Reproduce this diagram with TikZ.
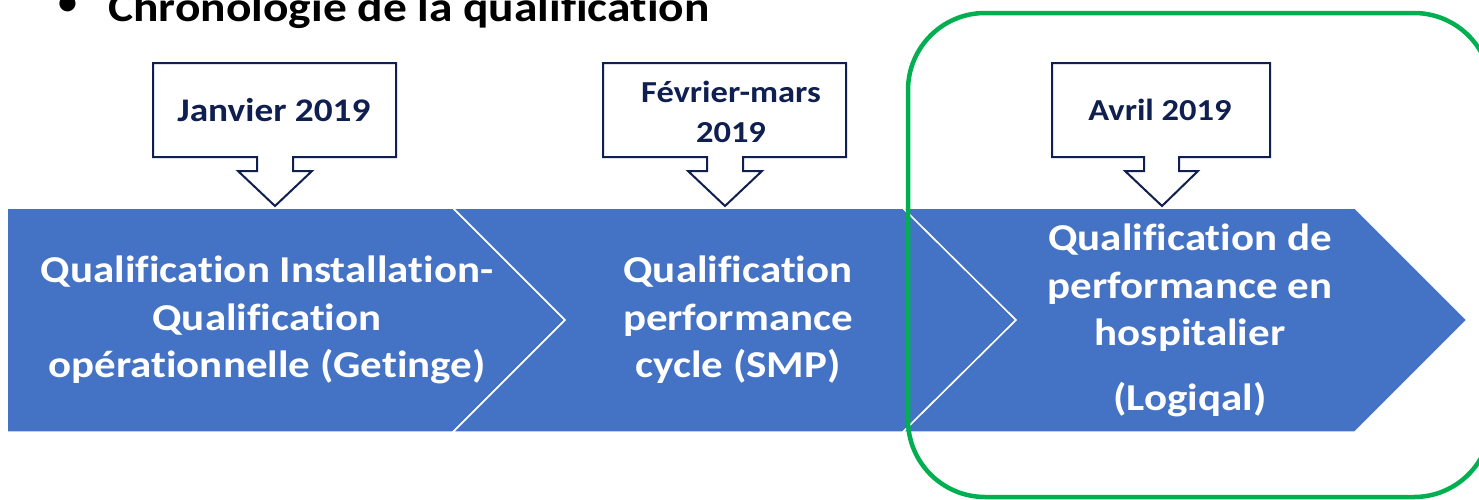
\documentclass[tikz,border=0pt]{standalone}
\usepackage{fontspec}
\setmainfont[Ligatures={NoCommon}]{Carlito}
\newfontfamily\widefont[FakeStretch=1.13,Ligatures={NoCommon}]{Carlito}
\definecolor{chev}{HTML}{4472C4}
\definecolor{navy}{HTML}{0F1F4F}
\definecolor{grn}{HTML}{00B050}
\tikzset{
  chevron/.style={fill=chev, draw=white, line width=1.5pt, line join=miter},
  callout/.style={fill=white, draw=navy, line width=2pt, line join=miter},
  datetext/.style={text=navy, align=center, inner sep=0pt},
  chevtext/.style={text=white, font=\widefont\fontsize{38}{47.5}\selectfont\bfseries, align=center, inner sep=0pt},
  frame/.style={draw=grn, line width=4.5pt, rounded corners=77pt},
}
\begin{document}
\begin{tikzpicture}[x=1pt,y=-1pt]
\useasboundingbox[fill=white] (0,0) rectangle (1479,499);
% title
\node[anchor=base west, inner sep=0pt, font=\widefont\fontsize{42}{48}\selectfont\bfseries] (title) at (108,21) {Chronologie de la qualification};
\node[inner sep=0pt, font=\fontsize{38}{44}\selectfont\bfseries] (bullet) at (68,5) {\textbullet};
% chevrons
\draw[chevron] (7,208) -- (453,208) -- (565,320) -- (453,432) -- (7,432) -- cycle;
\draw[chevron] (453,208) -- (903,208) -- (1016,320) -- (903,432) -- (453,432) -- (565,320) -- cycle;
\draw[chevron] (903,208) -- (1355,208) -- (1467,320) -- (1355,432) -- (903,432) -- (1016,320) -- cycle;
% chevron texts
\node[chevtext] (c1) at (267,320) {Qualification Installation-\\Qualification\\opérationnelle (Getinge)};
\node[chevtext] (c2) at (738,320) {Qualification\\performance\\cycle (SMP)};
\node[chevtext] (c3) at (1190,288) {Qualification de\\performance en\\hospitalier};
\node[chevtext] (c3b) at (1190,400) {(Logiqal)};
% callouts
\draw[callout] (153,63) -- (396,63) -- (396,157) -- (293,157) -- (293,171) -- (312,171) -- (275,206) -- (238,171) -- (257,171) -- (257,157) -- (153,157) -- cycle;
\draw[callout] (603,63) -- (846,63) -- (846,157) -- (743,157) -- (743,171) -- (762,171) -- (725,206) -- (688,171) -- (707,171) -- (707,157) -- (603,157) -- cycle;
\draw[callout] (1052,63) -- (1270,63) -- (1270,157) -- (1179,157) -- (1179,171) -- (1198,171) -- (1162,206) -- (1125,171) -- (1144,171) -- (1144,157) -- (1052,157) -- cycle;
\node[datetext, font=\widefont\fontsize{33}{40}\selectfont\bfseries] (d1) at (274,110) {Janvier 2019};
\node[datetext, font=\widefont\fontsize{30.5}{40}\selectfont\bfseries] (d2) at (731,112) {Février-mars\\2019};
\node[datetext, font=\widefont\fontsize{30.5}{40}\selectfont\bfseries] (d3) at (1160,110) {Avril 2019};
% green frame
\draw[frame] (908,13) rectangle (1491,497);
\end{tikzpicture}
\end{document}
